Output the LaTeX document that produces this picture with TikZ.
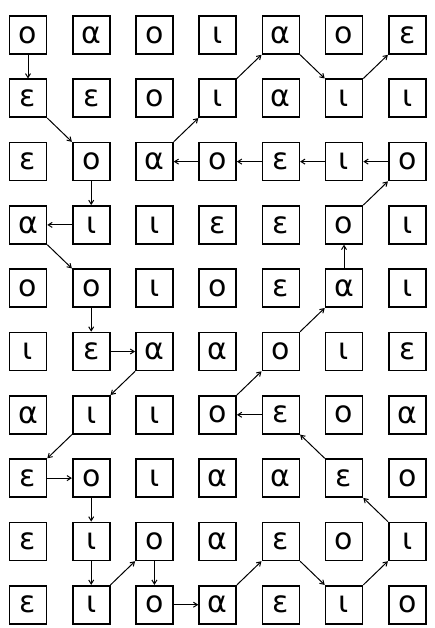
\documentclass[tikz,border=0pt]{standalone}
\usepackage{fontspec}
\newfontfamily\grfont{DejaVu Sans}
\usetikzlibrary{arrows.meta}
\begin{document}
\begin{tikzpicture}[x=1pt,y=-1pt,
  cell/.style={draw, line width=1.6pt, minimum width=37pt, minimum height=38pt, inner sep=0pt,
    font=\grfont\fontsize{30}{30}\selectfont},
  link/.style={line width=1pt, -{Straight Barb[length=4pt,width=5pt]}}]
\fill[white] (0,0) rectangle (434,628);
\useasboundingbox (0,0) rectangle (434,628);
\foreach \row [count=\r] in {
  {ο,α,ο,ι,α,ο,ε},
  {ε,ε,ο,ι,α,ι,ι},
  {ε,ο,α,ο,ε,ι,ο},
  {α,ι,ι,ε,ε,ο,ι},
  {ο,ο,ι,ο,ε,α,ι},
  {ι,ε,α,α,ο,ι,ε},
  {α,ι,ι,ο,ε,ο,α},
  {ε,ο,ι,α,α,ε,ο},
  {ε,ι,ο,α,ε,ο,ι},
  {ε,ι,ο,α,ε,ι,ο}} {
  \foreach \l [count=\c] in \row {
    \node[cell] (n\r-\c) at ({28+63.2*(\c-1)},{35+63.3*(\r-1)}) {\l};
  }
}
\draw[link] (n1-1.south) -- (n2-1.north);
\draw[link] (n2-1.south east) -- (n3-2.north west);
\draw[link] (n3-2.south) -- (n4-2.north);
\draw[link] (n4-2.west) -- (n4-1.east);
\draw[link] (n4-1.south east) -- (n5-2.north west);
\draw[link] (n5-2.south) -- (n6-2.north);
\draw[link] (n6-2.east) -- (n6-3.west);
\draw[link] (n6-3.south west) -- (n7-2.north east);
\draw[link] (n7-2.south west) -- (n8-1.north east);
\draw[link] (n8-1.east) -- (n8-2.west);
\draw[link] (n8-2.south) -- (n9-2.north);
\draw[link] (n9-2.south) -- (n10-2.north);
\draw[link] (n10-2.north east) -- (n9-3.south west);
\draw[link] (n9-3.south) -- (n10-3.north);
\draw[link] (n10-3.east) -- (n10-4.west);
\draw[link] (n10-4.north east) -- (n9-5.south west);
\draw[link] (n9-5.south east) -- (n10-6.north west);
\draw[link] (n10-6.north east) -- (n9-7.south west);
\draw[link] (n9-7.north west) -- (n8-6.south east);
\draw[link] (n8-6.north west) -- (n7-5.south east);
\draw[link] (n7-5.west) -- (n7-4.east);
\draw[link] (n7-4.north east) -- (n6-5.south west);
\draw[link] (n6-5.north east) -- (n5-6.south west);
\draw[link] (n5-6.north) -- (n4-6.south);
\draw[link] (n4-6.north east) -- (n3-7.south west);
\draw[link] (n3-7.west) -- (n3-6.east);
\draw[link] (n3-6.west) -- (n3-5.east);
\draw[link] (n3-5.west) -- (n3-4.east);
\draw[link] (n3-4.west) -- (n3-3.east);
\draw[link] (n3-3.north east) -- (n2-4.south west);
\draw[link] (n2-4.north east) -- (n1-5.south west);
\draw[link] (n1-5.south east) -- (n2-6.north west);
\draw[link] (n2-6.north east) -- (n1-7.south west);
\end{tikzpicture}
\end{document}
